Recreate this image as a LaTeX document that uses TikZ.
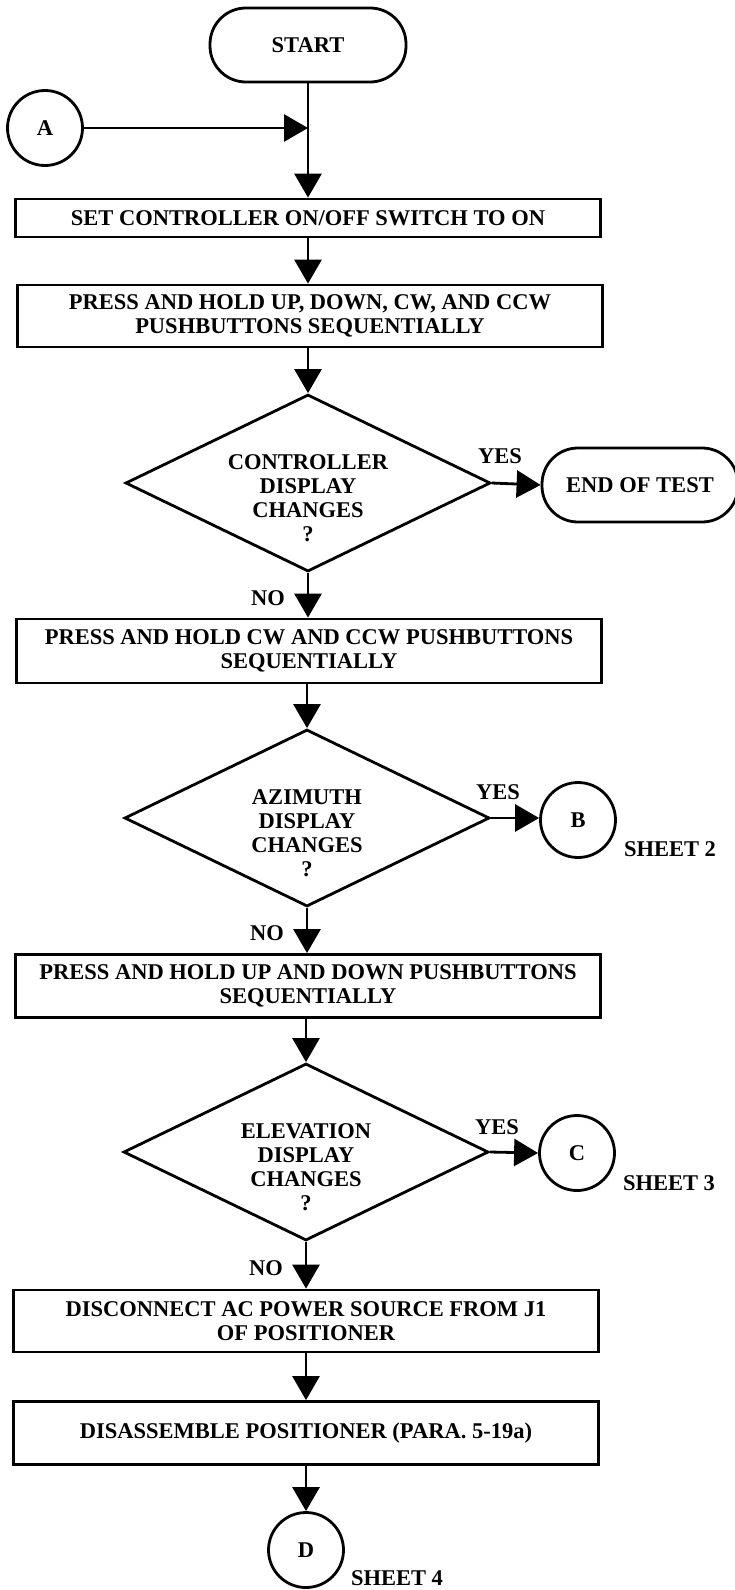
\documentclass[tikz,border=0pt]{standalone}
\usepackage{fontspec}
\setmainfont{Liberation Serif}
\usetikzlibrary{shapes.geometric,arrows.meta}

\tikzset{
  box/.style={draw, line width=2.8pt, minimum width=585pt, align=center, inner sep=0pt},
  term/.style={draw, line width=2.8pt, rounded corners=36pt, minimum width=196pt, minimum height=74pt},
  conn/.style={draw, circle, line width=2.8pt, minimum size=75pt, inner sep=0pt},
  test/.style={draw, diamond, line width=2.8pt, minimum width=365pt, minimum height=177pt, inner sep=0pt},
  txt/.style={align=center, inner sep=0pt},
  flow/.style={line width=2.8pt, -{Triangle[length=24pt,width=27pt]}},
}

\begin{document}
\begin{tikzpicture}[x=1pt,y=-1pt, every node/.style={font=\fontsize{22.5}{24}\selectfont\bfseries}]
\useasboundingbox (0,0) rectangle (735,1590);

%debut
\node[term] (start) at (308,45) {START};
\node[conn] (A) at (45,128) {A};
\coordinate (ajoin) at (308,128);

\node[box, minimum height=38pt] (set) at (308,218) {SET CONTROLLER ON/OFF SWITCH TO ON};
\node[box, minimum height=62pt] (all) at (310,316) {PRESS AND HOLD UP, DOWN, CW, AND CCW\\PUSHBUTTONS SEQUENTIALLY};

%premier test
\node[test] (ctrl) at (308,483) {};
\node[txt] (ctrlq) at (308,498) {CONTROLLER\\DISPLAY\\CHANGES\\?};
\node[term] (end) at (640,485) {END OF TEST};
\node (yes1) at (500,456) {YES};
\node (no1) at (268,598) {NO};

\node[box, minimum height=64pt] (cw) at (309,651) {PRESS AND HOLD CW AND CCW PUSHBUTTONS\\SEQUENTIALLY};

%azimut
\node[test] (az) at (307,818) {};
\node[txt] (azq) at (307,833) {AZIMUTH\\DISPLAY\\CHANGES\\?};
\node[conn] (B) at (578,820) {B};
\node (sh2) at (670,849) {SHEET 2};
\node (yes2) at (498,792) {YES};
\node (no2) at (267,933) {NO};

\node[box, minimum height=63pt] (updn) at (308,986) {PRESS AND HOLD UP AND DOWN PUSHBUTTONS\\SEQUENTIALLY};

%elevation
\node[test] (el) at (306,1152) {};
\node[txt] (elq) at (306,1167) {ELEVATION\\DISPLAY\\CHANGES\\?};
\node[conn] (C) at (577,1153) {C};
\node (sh3) at (669,1183) {SHEET 3};
\node (yes3) at (497,1127) {YES};
\node (no3) at (266,1268) {NO};

%fin
\node[box, minimum height=62pt] (disc) at (306,1321) {DISCONNECT AC POWER SOURCE FROM J1\\OF POSITIONER};
\node[box, minimum height=63pt] (dis) at (306,1433) {DISASSEMBLE POSITIONER (PARA. 5-19a)};
\node[conn] (D) at (306,1550) {D};
\node (sh4) at (397,1578) {SHEET 4};

%fleches
\draw[line width=2.8pt] (start.south) -- (ajoin);
\draw[flow] (A) -- (ajoin);
\draw[flow] (ajoin) -- (set.north -| ajoin);
\draw[flow] (set.south -| ajoin) -- (all.north -| ajoin);
\draw[flow] (all.south -| ctrl) -- (ctrl.north);
\draw[flow] (ctrl.east) -- (end.west);
\draw[flow] (ctrl.south) -- (ctrl.south |- cw.north);
\draw[flow] (cw.south -| az) -- (az.north);
\draw[flow] (az.east) -- (B.west |- az.east);
\draw[flow] (az.south) -- (az.south |- updn.north);
\draw[flow] (updn.south -| el) -- (el.north);
\draw[flow] (el.east) -- (C.west);
\draw[flow] (el.south) -- (el.south |- disc.north);
\draw[flow] (disc.south) -- (dis.north);
\draw[flow] (dis.south) -- (D.north);

\end{tikzpicture}
\end{document}
